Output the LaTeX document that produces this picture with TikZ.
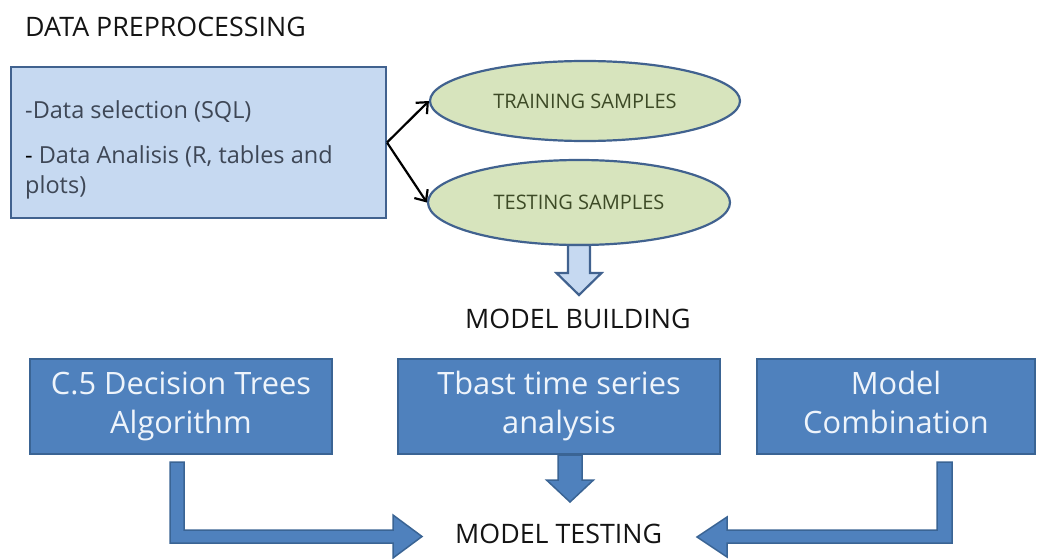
\documentclass[tikz,border=0pt]{standalone}
\usepackage{fontspec}
\setmainfont{Open Sans}
\usetikzlibrary{shapes.geometric,arrows.meta}
\definecolor{lbfill}{HTML}{C6D9F1}
\definecolor{lbdraw}{HTML}{41628F}
\definecolor{dbfill}{HTML}{4F81BD}
\definecolor{dbdraw}{HTML}{3A6494}
\definecolor{grfill}{HTML}{D7E4BD}
\definecolor{grtext}{HTML}{3D4A26}
\definecolor{boxtext}{HTML}{3E4756}
\definecolor{dbtext}{HTML}{EEF4FB}
\tikzset{
  ttlstyle/.style={anchor=base west, inner sep=0pt, text=black!92, font=\fontsize{26.8}{30}\selectfont},
  lboxstyle/.style={draw=lbdraw, fill=lbfill, line width=2pt, minimum width=375pt, minimum height=151pt, inner sep=0pt},
  ltextstyle/.style={anchor=base west, inner sep=0pt, text=boxtext, font=\fontsize{23.5}{28}\selectfont},
  sampleell/.style={ellipse, draw=lbdraw, fill=grfill, line width=2.2pt, inner sep=0pt, text=grtext, font=\fontsize{20}{24}\selectfont},
  dboxstyle/.style={draw=dbdraw, fill=dbfill, line width=2pt, minimum height=95pt, inner sep=0pt, align=center, text=dbtext, font=\fontsize{30.8}{39}\selectfont},
  thinarrow/.style={draw=black, line width=2.2pt, -{Straight Barb[length=9pt,width=16pt]}},
  lbarrow/.style={draw=lbdraw, fill=lbfill, line width=2.2pt, line join=miter},
  dbarrow/.style={draw=dbdraw, fill=dbfill, line width=1.5pt, line join=miter}
}
\begin{document}
\begin{tikzpicture}[x=1pt,y=-1pt]
\useasboundingbox (0,0) rectangle (1038,559);

% titles
\node[ttlstyle] (t1) at (25,37) {DATA PREPROCESSING};
\node[ttlstyle] (t2) at (465,328) {MODEL BUILDING};
\node[ttlstyle] (t3) at (455,543) {MODEL TESTING};

% preprocessing box
\node[lboxstyle] (pre) at (198.5,142.5) {};
\node[ltextstyle] (l1) at (25,119) {-Data selection (SQL)};
\node[ltextstyle] (l2) at (25,163) {{\color{black}-} Data Analisis (R, tables and};
\node[ltextstyle] (l3) at (25,193) {plots)};

% samples
\node[sampleell, minimum width=310pt, minimum height=80pt] (train) at (585,101) {TRAINING SAMPLES};
\node[sampleell, minimum width=302pt, minimum height=85pt] (test) at (579,202.5) {TESTING SAMPLES};

\draw[thinarrow] (pre.east) -- (train.west);
\draw[thinarrow] (pre.east) -- (test.west);

% down arrow to model building
\path[lbarrow] (568,245) -- (590,245) -- (590,273) -- (601.5,273) -- (579,295) -- (556.5,273) -- (568,273) -- cycle;

% model boxes
\node[dboxstyle, minimum width=302pt] (b1) at (181,406.5) {C.5 Decision Trees\strut\\Algorithm\strut};
\node[dboxstyle, minimum width=322pt] (b2) at (559,406.5) {Tbast time series\strut\\analysis\strut};
\node[dboxstyle, minimum width=278pt] (b3) at (896,406.5) {Model\strut\\Combination\strut};

% arrows to model testing
\path[dbarrow] (170,462) -- (184,462) -- (184,530) -- (393,530) -- (393,515) -- (422,536.5) -- (393,558) -- (393,543) -- (170,543) -- cycle;
\path[dbarrow] (558,455) -- (582,455) -- (582,480) -- (593.5,480) -- (570,502) -- (546.5,480) -- (558,480) -- cycle;
\path[dbarrow] (952,462) -- (937,462) -- (937,530) -- (727,530) -- (727,517) -- (697,537) -- (727,557) -- (727,543) -- (952,543) -- cycle;
\end{tikzpicture}
\end{document}
